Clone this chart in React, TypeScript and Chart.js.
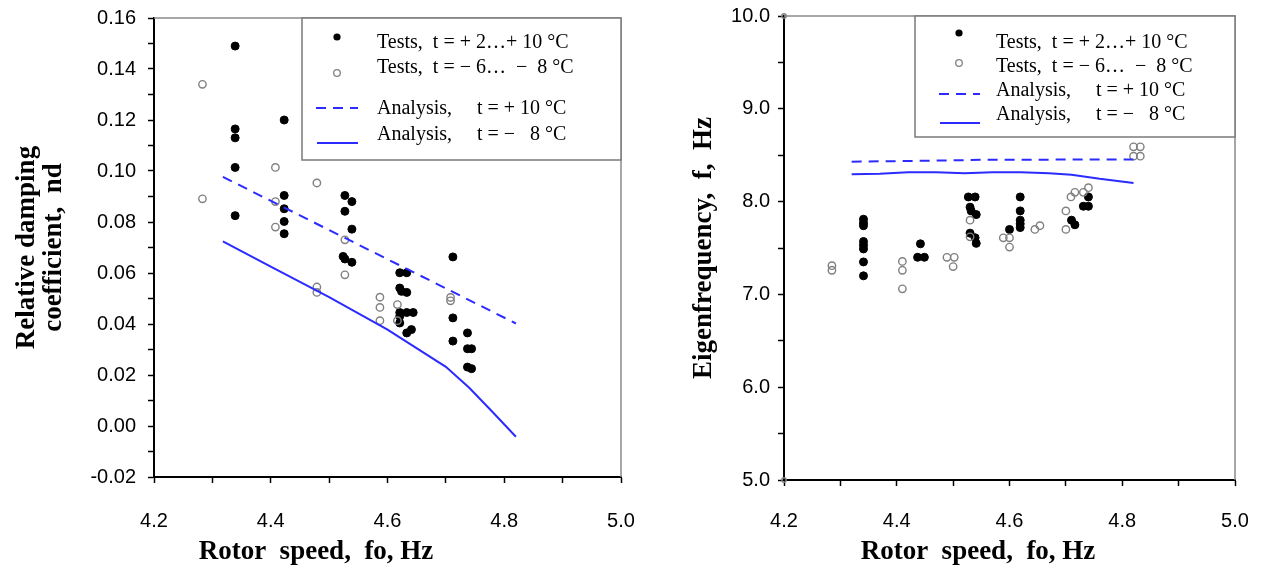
import React, { useEffect, useRef } from 'react';
import { Chart, registerables } from 'chart.js';
Chart.register(...registerables);

// ---------- Left chart: relative damping coefficient ----------
const dampWarmX = [4.339, 4.339, 4.339, 4.339, 4.339, 4.423, 4.423, 4.423, 4.423, 4.423, 4.527, 4.539, 4.527, 4.539, 4.524, 4.527, 4.539, 4.621, 4.633, 4.621, 4.624, 4.633, 4.621, 4.633, 4.644, 4.621, 4.621, 4.633, 4.641, 4.712, 4.712, 4.712, 4.737, 4.737, 4.737, 4.744, 4.744];
const dampWarmY = [0.149, 0.1165, 0.113, 0.1014, 0.0825, 0.12, 0.0904, 0.0852, 0.0802, 0.0754, 0.0904, 0.088, 0.0842, 0.0772, 0.0665, 0.0655, 0.0642, 0.0601, 0.0601, 0.0541, 0.0528, 0.0524, 0.0445, 0.0445, 0.0445, 0.043, 0.0404, 0.0365, 0.0378, 0.0663, 0.0424, 0.0333, 0.0365, 0.0303, 0.0231, 0.0303, 0.0225];
const dampColdX = [4.283, 4.283, 4.408, 4.408, 4.408, 4.479, 4.479, 4.479, 4.527, 4.527, 4.587, 4.587, 4.587, 4.617, 4.617, 4.708, 4.708];
const dampColdY = [0.134, 0.0891, 0.1014, 0.088, 0.078, 0.0953, 0.0545, 0.0524, 0.073, 0.0593, 0.0505, 0.0465, 0.0413, 0.0476, 0.0413, 0.0504, 0.0491];
const dampAnaWarmX = [4.318, 4.82];
const dampAnaWarmY = [0.0977, 0.0402];
const dampAnaColdX = [4.318, 4.4, 4.5, 4.6, 4.7, 4.74, 4.78, 4.82];
const dampAnaColdY = [0.0724, 0.0625, 0.0505, 0.0378, 0.0232, 0.015, 0.0055, -0.0042];

// ---------- Right chart: eigenfrequency ----------
const freqWarmX = [4.341, 4.341, 4.341, 4.341, 4.341, 4.341, 4.341, 4.341, 4.442, 4.437, 4.449, 4.527, 4.539, 4.53, 4.532, 4.541, 4.53, 4.539, 4.541, 4.6, 4.619, 4.619, 4.619, 4.619, 4.619, 4.71, 4.716, 4.731, 4.74, 4.74];
const freqWarmY = [7.81, 7.77, 7.74, 7.57, 7.53, 7.49, 7.35, 7.2, 7.545, 7.4, 7.4, 8.05, 8.05, 7.94, 7.9, 7.86, 7.66, 7.61, 7.55, 7.7, 8.05, 7.9, 7.8, 7.76, 7.72, 7.8, 7.75, 7.95, 7.95, 8.05];
const freqColdX = [4.285, 4.285, 4.41, 4.41, 4.41, 4.489, 4.502, 4.5, 4.53, 4.53, 4.589, 4.6, 4.6, 4.645, 4.654, 4.7, 4.7, 4.709, 4.716, 4.731, 4.74, 4.82, 4.82, 4.832, 4.832];
const freqColdY = [7.31, 7.26, 7.355, 7.26, 7.06, 7.4, 7.4, 7.3, 7.8, 7.62, 7.61, 7.61, 7.51, 7.7, 7.74, 7.9, 7.7, 8.05, 8.1, 8.1, 8.15, 8.59, 8.49, 8.59, 8.49];
const freqAnaWarmX = [4.32, 4.45, 4.55, 4.82];
const freqAnaWarmY = [8.43, 8.44, 8.45, 8.455];
const freqAnaColdX = [4.32, 4.37, 4.42, 4.47, 4.52, 4.57, 4.62, 4.67, 4.71, 4.76, 4.82];
const freqAnaColdY = [8.295, 8.3, 8.315, 8.315, 8.305, 8.315, 8.315, 8.305, 8.29, 8.245, 8.2];
const freqCornerX = [4.2, 4.2];
const freqCornerY = [10.0, 5.0];

const xTickLabels = ['4.2', '4.4', '4.6', '4.8', '5.0'];
const xAxisTitle = 'Rotor  speed,  fo, Hz';
const legendTexts = [
  'Tests,  t = + 2\u2026+ 10 \u00b0C',
  'Tests,  t = \u2212 6\u2026  \u2212  8 \u00b0C',
  'Analysis,     t = + 10 \u00b0C',
  'Analysis,     t = \u2212   8 \u00b0C',
];

const BLUE = '#2b2bff';
const GREY = '#808080';
const SERIF = '"Liberation Serif", "Times New Roman", serif';

const zip = (xs: number[], ys: number[]) => xs.map((x, i) => ({ x, y: ys[i] }));

const boxLegend = {
  id: 'boxLegend',
  afterDraw(chart: any, _args: any, o: any) {
    if (!o || !o.box) return;
    const ctx = chart.ctx as CanvasRenderingContext2D;
    const [x1, y1, x2, y2] = o.box;
    ctx.save();
    ctx.fillStyle = '#fff';
    ctx.fillRect(x1, y1, x2 - x1, y2 - y1);
    ctx.strokeStyle = '#7a7a7a';
    ctx.lineWidth = 1.5;
    ctx.strokeRect(x1, y1, x2 - x1, y2 - y1);
    ctx.font = o.font;
    ctx.textBaseline = 'middle';
    ctx.textAlign = 'left';
    o.rows.forEach((r: any, i: number) => {
      if (r.kind === 'filled') {
        ctx.beginPath();
        ctx.arc(r.mx, r.my, 3.6, 0, Math.PI * 2);
        ctx.fillStyle = '#000';
        ctx.fill();
      } else if (r.kind === 'open') {
        ctx.beginPath();
        ctx.arc(r.mx, r.my, 3.3, 0, Math.PI * 2);
        ctx.strokeStyle = GREY;
        ctx.lineWidth = 1.3;
        ctx.stroke();
      } else {
        ctx.beginPath();
        ctx.strokeStyle = BLUE;
        ctx.lineWidth = 2;
        ctx.setLineDash(r.kind === 'dash' ? [10, 7] : []);
        ctx.moveTo(r.mx, r.my);
        ctx.lineTo(r.mx2, r.my);
        ctx.stroke();
        ctx.setLineDash([]);
      }
      ctx.fillStyle = '#000';
      ctx.fillText(legendTexts[i], r.tx, r.ty);
    });
    // x axis title
    if (o.xTitle) {
      ctx.font = `bold 27px ${SERIF}`;
      ctx.textAlign = 'center';
      ctx.fillText(xAxisTitle, o.xTitle[0], o.xTitle[1]);
    }
    ctx.restore();
  },
};

const framePlugin = {
  id: 'frame',
  beforeDatasetsDraw(chart: any) {
    const { ctx, chartArea: a } = chart;
    ctx.save();
    ctx.strokeStyle = '#8a8a8a';
    ctx.lineWidth = 1.5;
    ctx.beginPath();
    ctx.moveTo(a.left, a.top);
    ctx.lineTo(a.right, a.top);
    ctx.lineTo(a.right, a.bottom);
    ctx.stroke();
    ctx.restore();
  },
};

const tickFont = { family: '"Liberation Sans", Arial, sans-serif', size: 20 };
const titleFont = { family: SERIF, size: 27, weight: 'bold' as const, lineHeight: 1.0 };

function xScale(height: number, pad: number) {
  return {
    type: 'linear' as const,
    min: 4.2,
    max: 5.0,
    afterFit: (s: any) => { s.height = height; s.paddingLeft = 0; s.paddingRight = 0; },
    ticks: {
      stepSize: 0.1,
      autoSkip: false,
      maxRotation: 0,
      padding: pad,
      color: '#000',
      font: tickFont,
      callback: (_v: any, i: number) => (i % 2 === 0 ? xTickLabels[i / 2] : ''),
    },
    grid: { drawOnChartArea: false, drawTicks: true, tickLength: 6, tickColor: '#000', tickWidth: 1.5 },
    border: { display: true, color: '#000', width: 2 },
    title: { display: false },
  };
}

function yGrid() {
  return { drawOnChartArea: false, drawTicks: true, tickLength: 6, tickColor: '#000', tickWidth: 1.5 };
}

function scatterSet(data: any[], filled: boolean) {
  return {
    type: 'scatter' as const,
    data,
    showLine: false,
    pointRadius: filled ? 4 : 3.7,
    pointHoverRadius: filled ? 4 : 3.7,
    backgroundColor: filled ? '#000' : '#fff',
    borderColor: filled ? '#000' : GREY,
    pointBackgroundColor: filled ? '#000' : 'rgba(255,255,255,0)',
    pointBorderColor: filled ? '#000' : GREY,
    pointBorderWidth: filled ? 1 : 1.4,
  };
}

function lineSet(data: any[], dashed: boolean) {
  return {
    type: 'line' as const,
    data,
    borderColor: BLUE,
    borderWidth: 2,
    borderDash: dashed ? [10, 7] : [],
    pointRadius: 0,
    fill: false,
    tension: 0,
  };
}

function LeftChart() {
  const ref = useRef<HTMLCanvasElement>(null);
  useEffect(() => {
    const chart = new Chart(ref.current as HTMLCanvasElement, {
      type: 'scatter',
      data: {
        datasets: [
          lineSet(zip(dampAnaWarmX, dampAnaWarmY), true),
          lineSet(zip(dampAnaColdX, dampAnaColdY), false),
          scatterSet(zip(dampColdX, dampColdY), false),
          scatterSet(zip(dampWarmX, dampWarmY), true),
        ] as any,
      },
      options: {
        animation: false,
        responsive: false,
        events: [],
        layout: { padding: { top: 18, right: 19, left: 0, bottom: 0 } },
        scales: {
          x: xScale(96, 26) as any,
          y: {
            type: 'linear',
            min: -0.02,
            max: 0.16,
            afterFit: (s: any) => { s.width = 154; s.paddingTop = 0; s.paddingBottom = 0; },
            ticks: {
              stepSize: 0.01,
              autoSkip: false,
              padding: 12,
              color: '#000',
              font: tickFont,
              callback: (v: any, i: number) => (i % 2 === 0 ? Number(v).toFixed(2) : ''),
            },
            grid: yGrid(),
            border: { display: true, color: '#000', width: 2 },
            title: { display: true, text: ['Relative damping', 'coefficient,  nd'], color: '#000', font: titleFont, padding: { top: 14, bottom: 0 } },
          } as any,
        },
        plugins: {
          legend: { display: false },
          tooltip: { enabled: false },
          boxLegend: {
            box: [302, 18, 621, 160],
            font: `20px ${SERIF}`,
            xTitle: [316, 552],
            rows: [
              { kind: 'filled', mx: 337, my: 37, tx: 377, ty: 43 },
              { kind: 'open', mx: 337, my: 73, tx: 377, ty: 68 },
              { kind: 'dash', mx: 316, mx2: 358, my: 108, tx: 377, ty: 109 },
              { kind: 'solid', mx: 317, mx2: 358, my: 143, tx: 377, ty: 135 },
            ],
          },
        } as any,
      },
      plugins: [framePlugin, boxLegend],
    });
    return () => chart.destroy();
  }, []);
  return <canvas ref={ref} width={640} height={573} style={{ position: 'absolute', left: 0, top: 0, display: 'block' }} />;
}

function RightChart() {
  const ref = useRef<HTMLCanvasElement>(null);
  useEffect(() => {
    const chart = new Chart(ref.current as HTMLCanvasElement, {
      type: 'scatter',
      data: {
        datasets: [
          lineSet(zip(freqAnaWarmX, freqAnaWarmY), true),
          lineSet(zip(freqAnaColdX, freqAnaColdY), false),
          scatterSet(zip(freqColdX, freqColdY), false),
          scatterSet(zip(freqWarmX, freqWarmY), true),
          { ...scatterSet(zip(freqCornerX, freqCornerY), false), pointRadius: 2.2, clip: false },
        ] as any,
      },
      options: {
        animation: false,
        responsive: false,
        events: [],
        layout: { padding: { top: 16, right: 28, left: 0, bottom: 0 } },
        scales: {
          x: xScale(93, 23) as any,
          y: {
            type: 'linear',
            min: 5,
            max: 10,
            afterFit: (s: any) => { s.width = 144; s.paddingTop = 0; s.paddingBottom = 0; },
            ticks: {
              stepSize: 0.5,
              autoSkip: false,
              padding: 8,
              color: '#000',
              font: tickFont,
              callback: (v: any, i: number) => (i % 2 === 0 ? Number(v).toFixed(1) : ''),
            },
            grid: yGrid(),
            border: { display: true, color: '#000', width: 2 },
            title: { display: true, text: 'Eigenfrequency,  f,  Hz', color: '#000', font: titleFont, padding: { top: 51, bottom: 0 } },
          } as any,
        },
        plugins: {
          legend: { display: false },
          tooltip: { enabled: false },
          boxLegend: {
            box: [275, 16, 595, 137],
            font: `20px ${SERIF}`,
            xTitle: [338, 552],
            rows: [
              { kind: 'filled', mx: 319, my: 33, tx: 356, ty: 43 },
              { kind: 'open', mx: 319, my: 63, tx: 356, ty: 67 },
              { kind: 'dash', mx: 299, mx2: 340, my: 94, tx: 356, ty: 91 },
              { kind: 'solid', mx: 300, mx2: 340, my: 123, tx: 356, ty: 115 },
            ],
          },
        } as any,
      },
      plugins: [framePlugin, boxLegend],
    });
    return () => chart.destroy();
  }, []);
  return <canvas ref={ref} width={623} height={573} style={{ position: 'absolute', left: 640, top: 0, display: 'block' }} />;
}

export default function App() {
  return (
    <div style={{ position: 'absolute', left: 0, top: 0, width: 1263, height: 573, background: '#fff', overflow: 'hidden' }}>
      <LeftChart />
      <RightChart />
    </div>
  );
}
